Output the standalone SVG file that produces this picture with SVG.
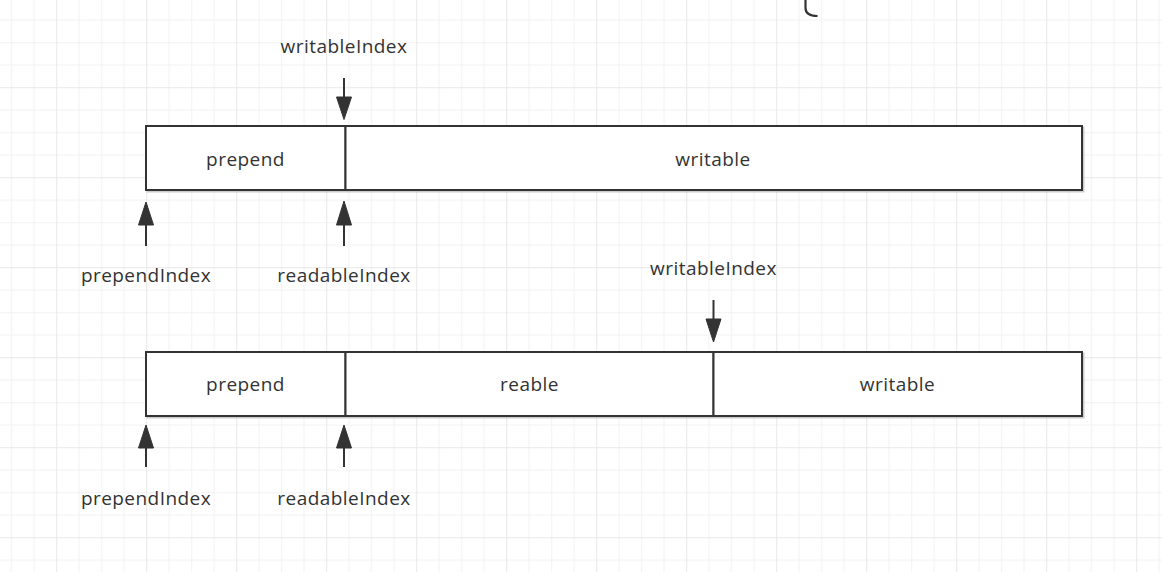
<svg xmlns="http://www.w3.org/2000/svg" width="1162" height="572" viewBox="0 0 1162 572">
  <style>
    .box { fill: #ffffff; stroke: #333333; stroke-width: 2; }
    .shadow { fill: none; stroke: #999999; stroke-opacity: 0.5; stroke-width: 2; }
    .lbl { font-family: "Open Sans", "Noto Sans", sans-serif; font-size: 19px; letter-spacing: 0.45px; fill: #333333; text-anchor: middle; }
    .conn { stroke: #333333; stroke-width: 2; fill: none; }
    .head { fill: #333333; stroke: #333333; stroke-width: 1; }
  </style>
  <defs>
    <pattern id="grid" patternUnits="userSpaceOnUse" x="56.2" y="87.2" width="90" height="90">
      <rect x="0" y="0" width="90" height="90" fill="#ffffff"/>
      <rect x="22.5" y="0" width="1" height="90" fill="#f2f2f2"/>
      <rect x="45" y="0" width="1" height="90" fill="#f2f2f2"/>
      <rect x="67.5" y="0" width="1" height="90" fill="#f2f2f2"/>
      <rect x="0" y="22.5" width="90" height="1" fill="#f2f2f2"/>
      <rect x="0" y="45" width="90" height="1" fill="#f2f2f2"/>
      <rect x="0" y="67.5" width="90" height="1" fill="#f2f2f2"/>
      <rect x="0" y="0" width="1" height="90" fill="#e8e8e8"/>
      <rect x="0" y="0" width="90" height="1" fill="#e8e8e8"/>
    </pattern>
  </defs>
  <rect x="0" y="0" width="1162" height="572" fill="url(#grid)"/>

  <path d="M 805.5 0 L 805.5 8 Q 805.5 16 817.5 16" fill="none" stroke="#333333" stroke-width="2.2"/>

  <g id="row1">
    <rect class="shadow" x="147.5" y="127.5" width="936" height="64"/>
    <g id="row1-prepend">
      <rect class="box" x="146" y="126" width="199.5" height="64"/>
      <text class="lbl" x="245.5" y="166">prepend</text>
    </g>
    <g id="row1-writable">
      <rect class="box" x="345.5" y="126" width="736.5" height="64"/>
      <text class="lbl" x="713" y="166">writable</text>
    </g>
  </g>

  <g id="row2">
    <rect class="shadow" x="147.5" y="353.5" width="936" height="64"/>
    <g id="row2-prepend">
      <rect class="box" x="146" y="352" width="199.5" height="64"/>
      <text class="lbl" x="245.5" y="391">prepend</text>
    </g>
    <g id="row2-reable">
      <rect class="box" x="345.5" y="352" width="368" height="64"/>
      <text class="lbl" x="529.5" y="391">reable</text>
    </g>
    <g id="row2-writable">
      <rect class="box" x="713.5" y="352" width="368.5" height="64"/>
      <text class="lbl" x="897.5" y="391">writable</text>
    </g>
  </g>

  <g id="labels">
    <text id="t-writableIndex1" class="lbl" x="344" y="53">writableIndex</text>
    <text id="t-prependIndex1" class="lbl" x="146" y="282">prependIndex</text>
    <text id="t-readableIndex1" class="lbl" x="344" y="282">readableIndex</text>
    <text id="t-writableIndex2" class="lbl" x="713.5" y="275">writableIndex</text>
    <text id="t-prependIndex2" class="lbl" x="146" y="505">prependIndex</text>
    <text id="t-readableIndex2" class="lbl" x="344" y="505">readableIndex</text>
  </g>

  <g id="connectors">
    <line class="conn" x1="344" y1="78" x2="344" y2="100"/>
    <polygon class="head" points="336.5,97 351.5,97 344,119.5"/>

    <line class="conn" x1="146" y1="246" x2="146" y2="222"/>
    <polygon class="head" points="138.5,225 153.5,225 146,202"/>

    <line class="conn" x1="344" y1="246" x2="344" y2="222"/>
    <polygon class="head" points="336.5,225 351.5,225 344,201"/>

    <line class="conn" x1="713.5" y1="300" x2="713.5" y2="322"/>
    <polygon class="head" points="706,319 721,319 713.5,342"/>

    <line class="conn" x1="146" y1="467" x2="146" y2="445"/>
    <polygon class="head" points="138.5,448 153.5,448 146,425"/>

    <line class="conn" x1="344" y1="467" x2="344" y2="445"/>
    <polygon class="head" points="336.5,448 351.5,448 344,425"/>
  </g>
</svg>
